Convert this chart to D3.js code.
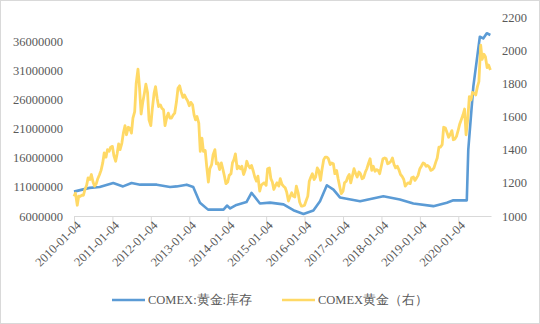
<!DOCTYPE html>
<html>
<head>
<meta charset="utf-8">
<script src="https://cdn.jsdelivr.net/npm/d3@7/dist/d3.min.js"></script>
<style>
  html, body { margin: 0; padding: 0; background: #fff; }
  .lbl { font-family: "Times New Roman", "Liberation Serif", "DejaVu Serif", serif; }
</style>
</head>
<body>
<svg id="chart" width="540" height="324"></svg>
<script>
// COMEX gold price (USD/oz), sampled twice a month (4th and 18th) from Jan 2010 to Nov 2020
const goldPrices = [
  // 2010
  1118, 1138, 1065, 1120, 1118, 1125, 1125, 1160, 1185, 1230, 1220, 1250,
  1205, 1180, 1195, 1225, 1250, 1275, 1320, 1380, 1355, 1400, 1390, 1415,
  // 2011
  1420, 1365, 1330, 1375, 1435, 1400, 1440, 1500, 1545, 1490, 1535, 1530,
  1500, 1590, 1630, 1800, 1885, 1780, 1615, 1680, 1740, 1795, 1745, 1580,
  // 2012
  1545, 1645, 1740, 1780, 1710, 1660, 1670, 1650, 1640, 1545, 1595, 1620,
  1590, 1590, 1610, 1620, 1690, 1770, 1785, 1750, 1715, 1730, 1710, 1695,
  // 2013
  1665, 1685, 1670, 1610, 1580, 1600, 1560, 1390, 1470, 1390, 1395, 1300,
  1205, 1285, 1310, 1370, 1400, 1315, 1320, 1280, 1320, 1285, 1240, 1195,
  // 2014
  1205, 1245, 1255, 1320, 1340, 1375, 1285, 1300, 1285, 1300, 1250, 1275,
  1330, 1305, 1290, 1305, 1270, 1235, 1210, 1240, 1150, 1185, 1195, 1200,
  // 2015
  1185, 1285, 1290, 1225, 1205, 1160, 1185, 1200, 1180, 1225, 1190, 1180,
  1170, 1145, 1090, 1115, 1140, 1120, 1115, 1180, 1140, 1085, 1060, 1060,
  // 2016
  1065, 1090, 1120, 1210, 1235, 1255, 1220, 1235, 1290, 1275, 1215, 1280,
  1340, 1355, 1355, 1345, 1310, 1320, 1315, 1255, 1275, 1225, 1175, 1135,
  // 2017
  1150, 1200, 1210, 1235, 1250, 1200, 1245, 1285, 1255, 1235, 1265, 1255,
  1225, 1230, 1265, 1285, 1320, 1345, 1275, 1300, 1270, 1280, 1275, 1255,
  // 2018
  1305, 1345, 1350, 1345, 1315, 1320, 1330, 1350, 1310, 1290, 1300, 1280,
  1250, 1240, 1220, 1180, 1195, 1200, 1195, 1230, 1235, 1215, 1230, 1245,
  // 2019
  1285, 1300, 1320, 1315, 1300, 1305, 1295, 1275, 1280, 1290, 1325, 1350,
  1415, 1415, 1430, 1535, 1530, 1505, 1475, 1490, 1515, 1460, 1465, 1480,
  // 2020
  1520, 1555, 1585, 1610, 1645, 1490, 1590, 1720, 1700, 1745, 1740, 1730,
  1780, 1810, 2030, 1945, 1975, 1960, 1895, 1910, 1880
];

// COMEX gold warehouse stocks (oz)
const stockDates = [
  "2010-01-04", "2010-06-01", "2010-09-05", "2011-01-12", "2011-04-15", "2011-07-05",
  "2011-09-25", "2012-03-01", "2012-07-05", "2012-09-05", "2012-12-10", "2013-02-10",
  "2013-04-15", "2013-07-01", "2013-11-25", "2013-12-28", "2014-01-27", "2014-03-28",
  "2014-07-01", "2014-08-18", "2014-11-06", "2015-02-10", "2015-06-18", "2015-09-20",
  "2015-12-25", "2016-03-28", "2016-05-30", "2016-08-03", "2016-10-05", "2016-12-05",
  "2017-06-15", "2018-01-22", "2018-06-28", "2018-11-03", "2019-05-12", "2019-09-17",
  "2019-11-18", "2020-03-25", "2020-04-08", "2020-05-26", "2020-07-27", "2020-08-28",
  "2020-10-01", "2020-11-04"
];
const stockValues = [
  10200000, 10850000, 11000000, 11700000, 11100000, 11700000,
  11400000, 11400000, 11000000, 11100000, 11400000, 11000000,
  8300000, 7100000, 7100000, 7800000, 7300000, 7900000,
  8400000, 10000000, 8150000, 8300000, 8000000, 7000000,
  6350000, 6950000, 8550000, 11300000, 10550000, 9200000,
  8550000, 9400000, 8850000, 8150000, 7700000, 8300000,
  8700000, 8700000, 17400000, 28300000, 36900000, 36600000,
  37500000, 37200000
];

const xTickDates = ["2010-01-04", "2011-01-04", "2012-01-04", "2013-01-04", "2014-01-04",
  "2015-01-04", "2016-01-04", "2017-01-04", "2018-01-04", "2019-01-04", "2020-01-04"];
const leftTicks = [6000000, 11000000, 16000000, 21000000, 26000000, 31000000, 36000000];
const rightTicks = [1000, 1200, 1400, 1600, 1800, 2000, 2200];

const seriesNames = ["COMEX:黄金:库存", "COMEX黄金（右）"];
const colors = ["#5b9bd5", "#ffd966"];

const TEXT_COLOR = "#595959";

const parse = d3.utcParse("%Y-%m-%d");

// twice-monthly sampling grid for the price series
const goldData = goldPrices.map((v, i) => ({
  date: new Date(Date.UTC(2010, Math.floor(i / 2), i % 2 === 0 ? 4 : 18)),
  value: v
}));
const stockData = stockDates.map((d, i) => ({ date: parse(d), value: stockValues[i] }));

const svg = d3.select("#chart");
const plot = { left: 74, right: 491, top: 17, bottom: 216 };

function styleText(sel) {
  sel.attr("class", "lbl").attr("font-family", null)
     .style("font-size", "12.5px").attr("fill", TEXT_COLOR);
}

// outer frame
svg.append("rect")
  .attr("x", 0.5).attr("y", 0.5).attr("width", 539).attr("height", 323)
  .attr("fill", "#fff").attr("stroke", "#d9d9d9").attr("stroke-width", 1);

const x = d3.scaleUtc()
  .domain([parse("2010-01-04"), parse("2020-11-10")])
  .range([plot.left, plot.right]);
const yL = d3.scaleLinear().domain([6000000, 40300000]).range([plot.bottom, plot.top]);
const yR = d3.scaleLinear().domain([1000, 2200]).range([plot.bottom, plot.top]);

// left axis labels (no axis line)
const leftAxis = d3.axisLeft(yL).tickValues(leftTicks).tickSize(0).tickPadding(11)
  .tickFormat(d3.format("d"));
svg.append("g").attr("transform", `translate(${plot.left},0)`).call(leftAxis)
  .attr("font-family", null)
  .call(g => g.select(".domain").remove())
  .call(g => g.selectAll("text").call(styleText));

// right axis labels
const rightAxis = d3.axisRight(yR).tickValues(rightTicks).tickSize(0).tickPadding(11)
  .tickFormat(d3.format("d"));
svg.append("g").attr("transform", `translate(${plot.right},0)`).call(rightAxis)
  .attr("font-family", null)
  .call(g => g.select(".domain").remove())
  .call(g => g.selectAll("text").call(styleText));

// bottom axis: line, ticks and rotated date labels
const bottomAxis = d3.axisBottom(x).tickValues(xTickDates.map(parse)).tickSize(5)
  .tickSizeOuter(0).tickFormat(d3.utcFormat("%Y-%m-%d"));
svg.append("g").attr("transform", `translate(0,${plot.bottom})`).call(bottomAxis)
  .attr("font-family", null)
  .call(g => g.select(".domain").attr("stroke", "#d9d9d9"))
  .call(g => g.selectAll(".tick line").attr("stroke", "#d9d9d9"))
  .call(g => g.selectAll("text").call(styleText)
    .attr("text-anchor", "end")
    .attr("dy", "0.35em").attr("y", 0)
    .attr("transform", "translate(4,7) rotate(-45)"));

const lineL = d3.line().x(d => x(d.date)).y(d => yL(d.value));
const lineR = d3.line().x(d => x(d.date)).y(d => yR(d.value));

svg.append("path").datum(stockData)
  .attr("fill", "none").attr("stroke", colors[0]).attr("stroke-width", 2.6)
  .attr("stroke-linejoin", "round").attr("d", lineL);

svg.append("path").datum(goldData)
  .attr("fill", "none").attr("stroke", colors[1]).attr("stroke-width", 2.8)
  .attr("stroke-linejoin", "round").attr("d", lineR);

// legend
const legend = svg.append("g");
const legendItems = [{ x: 112, name: seriesNames[0], color: colors[0] },
                     { x: 282, name: seriesNames[1], color: colors[1] }];
legendItems.forEach(item => {
  legend.append("line")
    .attr("x1", item.x).attr("x2", item.x + 33).attr("y1", 300).attr("y2", 300)
    .attr("stroke", item.color).attr("stroke-width", 2.6);
  legend.append("text")
    .attr("x", item.x + 36).attr("y", 300).attr("dy", "0.35em")
    .call(styleText).text(item.name);
});
</script>
</body>
</html>
